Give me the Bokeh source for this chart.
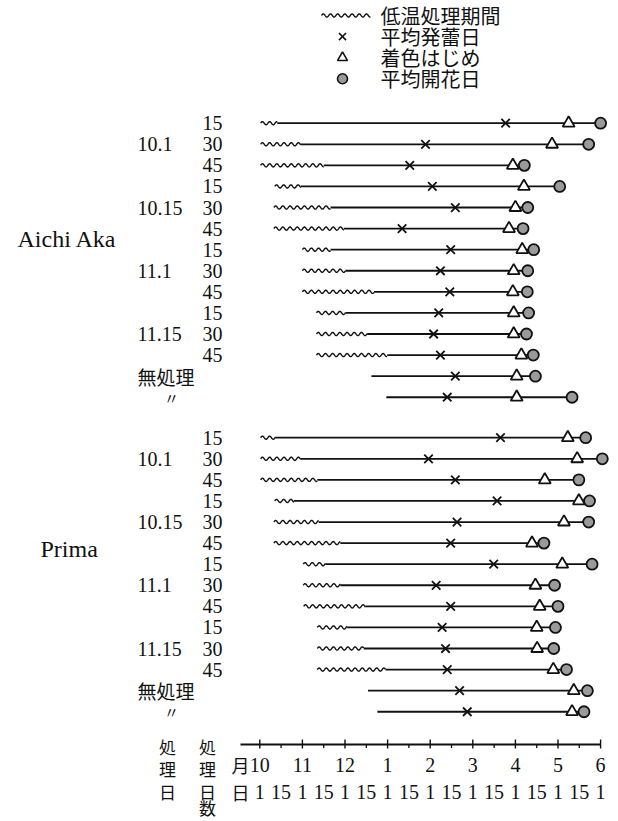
import numpy as np
from bokeh.plotting import figure
from bokeh.models import Range1d
from bokeh.core.properties import value
from bokeh.embed import file_html
from bokeh.resources import INLINE

# ---------------- data (x in months after Oct 1: 0 = 10/1, 0.5 = 10/15, 1 = 11/1 ... 8 = 6/1)
varieties = ["Aichi Aka", "Prima"]
treat_dates = ["10.1", "10.15", "11.1", "11.15"]
treat_days = ["15", "30", "45"]
untreated_labels = ["無処理", "〃"]

aichi_treat_start = [0.02, 0.02, 0.02, 0.35, 0.33, 0.33, 1.00, 1.00, 1.00, 1.33, 1.33, 1.33, None, None]
aichi_treat_end = [0.41, 0.96, 1.50, 0.96, 1.66, 1.97, 1.66, 2.01, 2.68, 2.01, 2.52, 2.99, 2.62, 2.97]
aichi_bud = [5.77, 3.89, 3.52, 4.05, 4.59, 3.34, 4.48, 4.24, 4.46, 4.20, 4.08, 4.24, 4.59, 4.40]
aichi_color = [7.25, 6.86, 5.94, 6.20, 6.00, 5.85, 6.16, 5.96, 5.94, 5.96, 5.96, 6.14, 6.03, 6.03]
aichi_flower = [8.00, 7.72, 6.21, 7.04, 6.29, 6.18, 6.43, 6.29, 6.28, 6.31, 6.26, 6.42, 6.47, 7.33]

prima_treat_start = [0.02, 0.02, 0.02, 0.35, 0.33, 0.33, 1.02, 1.02, 1.03, 1.35, 1.35, 1.35, None, None]
prima_treat_end = [0.37, 0.96, 1.35, 0.80, 1.38, 1.89, 1.54, 1.89, 2.48, 2.05, 2.44, 2.95, 2.54, 2.76]
prima_bud = [5.65, 3.96, 4.59, 5.57, 4.63, 4.48, 5.49, 4.14, 4.48, 4.28, 4.36, 4.40, 4.69, 4.87]
prima_color = [7.23, 7.45, 6.69, 7.49, 7.14, 6.39, 7.10, 6.47, 6.57, 6.50, 6.51, 6.89, 7.37, 7.33]
prima_flower = [7.65, 8.04, 7.49, 7.74, 7.72, 6.67, 7.80, 6.92, 7.00, 6.94, 6.90, 7.20, 7.69, 7.61]

month_ticks = [0, 1, 2, 3, 4, 5, 6, 7, 8]
month_labels = ["10", "11", "12", "1", "2", "3", "4", "5", "6"]
day_ticks = [0, 0.5, 1, 1.5, 2, 2.5, 3, 3.5, 4, 4.5, 5, 5.5, 6, 6.5, 7, 7.5, 8]
day_labels = ["1", "15"] * 8 + ["1"]

legend_labels = ["低温処理期間", "平均発蕾日", "着色はじめ", "平均開花日"]

# ---------------- layout (page pixel anchors -> data units)
W, H = 618, 821
X0, XS = 259.3, 42.6      # page x of 10/1, px per month
Y0, YS = 122.7, 21.08     # page y of first row, px per row
def mx(px):
    return (px - X0) / XS
def ry(py):
    return (py - Y0) / YS

SERIF = value("Liberation Serif")
JP = value("Noto Sans CJK JP")
INK = "#111111"
DOT = "#9a9a9a"

p = figure(width=W, height=H, output_backend="svg", toolbar_location=None,
           x_range=Range1d(mx(0), mx(W)), y_range=Range1d(ry(H), ry(0)),
           min_border=0, outline_line_color=None)
p.axis.visible = False
p.grid.visible = False
p.background_fill_color = "white"
p.border_fill_color = "white"

group_offset = [0.0, 14.92]
series = [
    (aichi_treat_start, aichi_treat_end, aichi_bud, aichi_color, aichi_flower),
    (prima_treat_start, prima_treat_end, prima_bud, prima_color, prima_flower),
]

amp = 1.6 / YS
wl = 7.2 / XS

def wave(x0, x1, y):
    n = max(int((x1 - x0) / wl * 16), 8)
    xs = np.linspace(x0, x1, n)
    ys = y - amp * np.sin(2 * np.pi * (xs - x0) / wl)
    return list(xs), list(ys)

wave_xs, wave_ys = [], []
seg_x0, seg_x1, seg_y = [], [], []
bx, by, cx, cy, fx, fy = [], [], [], [], [], []
for g, (ts, te, bud, col, flo) in enumerate(series):
    for i in range(len(te)):
        r = group_offset[g] + i
        if ts[i] is not None:
            xs, ys = wave(ts[i], te[i], r)
            wave_xs.append(xs); wave_ys.append(ys)
        seg_x0.append(te[i]); seg_x1.append(flo[i]); seg_y.append(r)
        bx.append(bud[i]); by.append(r)
        cx.append(col[i]); cy.append(r)
        fx.append(flo[i]); fy.append(r)

p.multi_line(xs=wave_xs, ys=wave_ys, line_color=INK, line_width=1.4)
p.segment(x0=seg_x0, y0=seg_y, x1=seg_x1, y1=seg_y, line_color=INK, line_width=1.8)
p.scatter(x=bx, y=by, marker="x", size=12, line_color=INK, line_width=1.8)
p.scatter(x=cx, y=cy, marker="triangle", size=12, fill_color="white", line_color=INK, line_width=1.8)
p.scatter(x=fx, y=fy, marker="circle", size=11, fill_color=DOT, line_color=INK, line_width=1.8)

# ---------------- left labels
for g, name in enumerate(varieties):
    off = group_offset[g]
    rows = [off + i for i in range(12)]
    p.text(x=[mx(222)] * 12, y=rows, text=treat_days * 4, text_font=SERIF, text_font_size="20px",
           text_align="right", text_baseline="middle", text_color=INK)
    p.text(x=[mx(137)] * 4, y=[off + 1 + 3 * k for k in range(4)], text=treat_dates, text_font=SERIF,
           text_font_size="20px", text_align="left", text_baseline="middle", text_color=INK)
    p.text(x=[mx(137)], y=[off + 12], text=[untreated_labels[0]], text_font=JP, text_font_size="19px",
           text_align="left", text_baseline="middle", text_color=INK)
    p.text(x=[mx(171)], y=[off + 13], text=[untreated_labels[1]], text_font=JP, text_font_size="15px",
           text_align="center", text_baseline="middle", text_color=INK)

p.text(x=[mx(17), mx(40)], y=[5.5, group_offset[1] + 5.3], text=varieties, text_font=SERIF,
       text_font_size="24px", text_align="left", text_baseline="middle", text_color=INK)

# ---------------- legend
leg_rows = [ry(15) + k for k in range(4)]
lx = wave(mx(321), mx(370), leg_rows[0])
p.line(x=lx[0], y=lx[1], line_color=INK, line_width=1.4)
p.scatter(x=[mx(342)], y=[leg_rows[1]], marker="x", size=10, line_color=INK, line_width=1.6)
p.scatter(x=[mx(342)], y=[leg_rows[2]], marker="triangle", size=10, fill_color="white", line_color=INK, line_width=1.6)
p.scatter(x=[mx(342)], y=[leg_rows[3]], marker="circle", size=10, fill_color=DOT, line_color=INK, line_width=1.6)
p.text(x=[mx(380)] * 4, y=leg_rows, text=legend_labels, text_font=JP, text_font_size="20px",
       text_align="left", text_baseline="middle", text_color=INK)

# ---------------- time axis
r_axis = ry(744)
p.segment(x0=[mx(240)], y0=[r_axis], x1=[month_ticks[-1]], y1=[r_axis], line_color=INK, line_width=1.8)
p.segment(x0=month_ticks, y0=[r_axis - 5 / YS] * len(month_ticks), x1=month_ticks,
          y1=[r_axis + 4 / YS] * len(month_ticks), line_color=INK, line_width=1.4)
minor = [t for t in day_ticks if t not in month_ticks]
p.segment(x0=minor, y0=[r_axis] * len(minor), x1=minor, y1=[r_axis + 3.5 / YS] * len(minor),
          line_color=INK, line_width=1.3)

r_month = ry(764)
r_day = ry(791)
p.text(x=month_ticks, y=[r_month] * len(month_ticks), text=month_labels, text_font=SERIF,
       text_font_size="20px", text_align="center", text_baseline="middle", text_color=INK)
p.text(x=day_ticks, y=[r_day] * len(day_ticks), text=day_labels, text_font=SERIF,
       text_font_size="20px", text_align="center", text_baseline="middle", text_color=INK)
p.text(x=[mx(240), mx(240)], y=[r_month, r_day], text=["月", "日"], text_font=JP,
       text_font_size="18px", text_align="center", text_baseline="middle", text_color=INK)

col1 = ["処", "理", "日"]
col2 = ["処", "理", "日", "数"]
rows_v = [ry(746), ry(768), r_day, ry(807)]
p.text(x=[mx(167)] * 3, y=rows_v[:3], text=col1, text_font=JP, text_font_size="17px",
       text_align="center", text_baseline="middle", text_color=INK)
p.text(x=[mx(207)] * 4, y=rows_v, text=col2, text_font=JP, text_font_size="17px",
       text_align="center", text_baseline="middle", text_color=INK)

open("out.html", "w").write(file_html(p, INLINE))
